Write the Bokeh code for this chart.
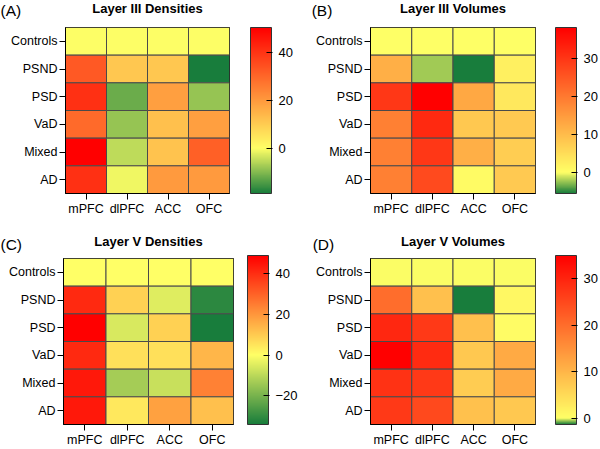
from bokeh.plotting import figure
from bokeh.models import (ColumnDataSource, LinearColorMapper, ColorBar, FixedTicker, Label)
from bokeh.layouts import column, row
from bokeh.transform import transform
from bokeh.embed import file_html
from bokeh.resources import INLINE
import numpy as np

regions = ["mPFC", "dlPFC", "ACC", "OFC"]
groups = ["Controls", "PSND", "PSD", "VaD", "Mixed", "AD"]

# rows follow groups, columns follow regions
l3_densities = [
    [0, 0, 0, 0],
    [33, 11, 11, -19],
    [41, -12, 19, -8.5],
    [29.5, -8.5, 12.5, 19],
    [50.7, -5.2, 12, 31.5],
    [41, -1.2, 20, 20],
]
l3_volumes = [
    [0, 0, 0, 0],
    [12, -2.2, -5.5, 2.2],
    [30, 38.2, 13, 3.4],
    [19, 32, 8.2, 8],
    [19, 30, 12, 7.6],
    [19, 27, 0.8, 8],
]
l5_densities = [
    [0, 0, 0, 0],
    [41, 9, -4.6, -31],
    [48.8, -5.7, 9, -34],
    [41, 6, 6, 14],
    [44, -13, -8, 24],
    [44, 4.4, 18, 12],
]
l5_volumes = [
    [0, 0, 0, 0],
    [20, 8.7, -1.3, 1],
    [29.5, 27, 8.7, 0.5],
    [34.9, 29, 7.5, 11.6],
    [28, 27, 7, 11.6],
    [27, 25, 8.5, 7.5],
]

ticks_a = [0, 20, 40]
ticks_b = [0, 10, 20, 30]
ticks_c = [-20, 0, 20, 40]
ticks_d = [0, 10, 20, 30]

GREEN = (24, 125, 60)
YELLOW = (255, 255, 102)
RED = (255, 0, 0)
FONT = "Liberation Sans"


def make_palette(low, high, n=256):
    cols = []
    for v in np.linspace(low, high, n):
        if v < 0:
            t = v / low
            a, b = YELLOW, GREEN
        else:
            t = v / high if high else 0
            a, b = YELLOW, RED
        c = tuple(int(round(a[i] + (b[i] - a[i]) * t)) for i in range(3))
        cols.append("#%02x%02x%02x" % c)
    return cols


def panel(letter, title, vals, ticks, h, left, right, top, bottom, cb_off, letter_x,
          base_above, tstand):
    xs, ys, vs = [], [], []
    for gi, g in enumerate(groups):
        for ri, r in enumerate(regions):
            xs.append(r)
            ys.append(g)
            vs.append(vals[gi][ri])
    src = ColumnDataSource(dict(x=xs, y=ys, v=vs))
    low, high = min(vs), max(vs)
    mapper = LinearColorMapper(palette=make_palette(low, high), low=low, high=high)

    p = figure(width=300, height=h, x_range=regions, y_range=list(reversed(groups)),
               output_backend="svg", toolbar_location=None,
               min_border_left=left, min_border_right=right,
               min_border_top=top, min_border_bottom=bottom)
    p.rect(x="x", y="y", width=1, height=1, source=src,
           fill_color=transform("v", mapper), line_color="#4a4a4a", line_width=1)
    p.grid.visible = False
    p.outline_line_color = "black"
    p.background_fill_color = None
    p.border_fill_color = "white"
    for ax in (p.xaxis[0], p.yaxis[0]):
        ax.major_tick_out = 6
        ax.major_tick_in = 0
        ax.minor_tick_line_color = None
        ax.axis_line_color = "black"
        ax.major_tick_line_color = "black"
        ax.major_label_text_font = FONT
        ax.major_label_text_font_size = "12.5px"
        ax.major_label_text_color = "black"
        ax.major_label_standoff = 2
    p.x_range.range_padding = 0
    p.y_range.range_padding = 0

    frame_h = h - top - bottom

    cb = ColorBar(color_mapper=mapper, ticker=FixedTicker(ticks=ticks),
                  width=21, height=frame_h, location=(cb_off, 0),
                  margin=0, padding=0, label_standoff=6,
                  major_label_text_font=FONT, major_label_text_font_size="13px",
                  major_label_text_color="black",
                  major_tick_in=5, major_tick_out=1, major_tick_line_color="black",
                  bar_line_color="#333333", border_line_color=None,
                  background_fill_color=None)
    p.add_layout(cb, "right")

    p.title.text = title
    p.title.align = "center"
    p.title.text_font = FONT
    p.title.text_font_size = "13px"
    p.title.text_font_style = "bold"
    p.title.text_color = "black"
    p.title.standoff = tstand

    p.add_layout(Label(x=letter_x - left, y=base_above, x_units="screen", y_units="screen",
                       text=letter, text_font=FONT, text_font_size="15.5px",
                       text_color="black", text_align="left",
                       text_baseline="alphabetic"), "above")
    return p


pa = panel("(A)", "Layer III Densities", l3_densities, ticks_a, 225, 65, 71, 27, 32, 21, 0, 17.5, -11.2)
pb = panel("(B)", "Layer III Volumes", l3_volumes, ticks_b, 225, 70, 64, 27, 32, 20, 11.2, 17.5, -11.2)
pc = panel("(C)", "Layer V Densities", l5_densities, ticks_c, 224, 63, 67, 33, 22, 14, 0, 14, -15.2)
pd = panel("(D)", "Layer V Volumes", l5_volumes, ticks_d, 224, 70, 64, 33, 22, 20, 12.2, 14, -15.2)

layout = column(row(pa, pb), row(pc, pd))
open("out.html", "w").write(file_html(layout, INLINE))
